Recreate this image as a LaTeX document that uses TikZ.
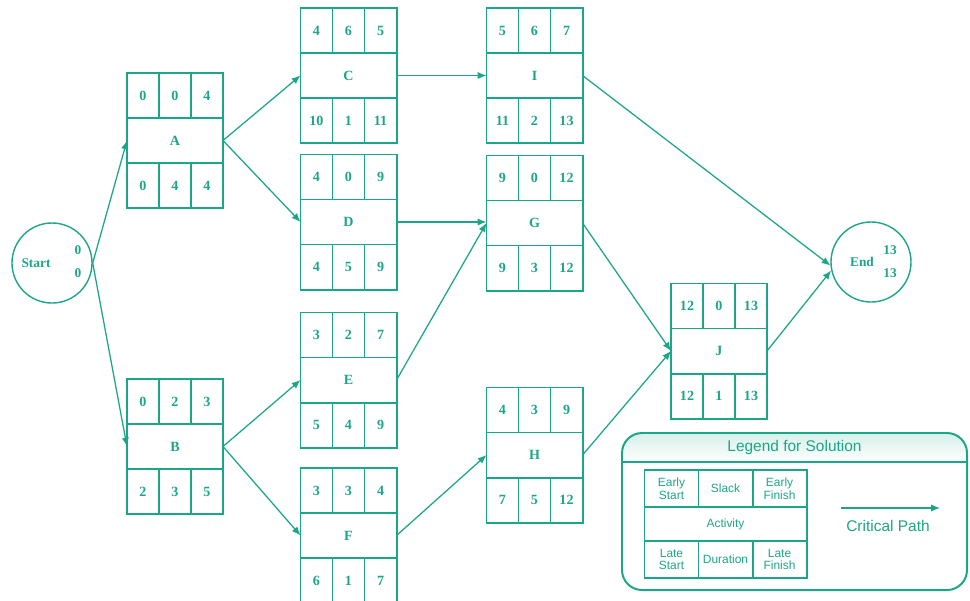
\documentclass[tikz,border=0pt]{standalone}
\usepackage{fontspec}
\setmainfont{Liberation Serif}
\setsansfont{Liberation Sans}
\usetikzlibrary{arrows.meta,positioning,calc}
\definecolor{ink}{RGB}{28,166,136}
\definecolor{soft}{RGB}{214,240,233}
\tikzset{
  boxline/.style={draw=ink,line width=1.4pt},
  actmid/.style={boxline,minimum width=2.4cm,minimum height=1.125cm,inner sep=0pt,
    outer sep=0pt,text=ink,font=\fontsize{10}{12}\selectfont\bfseries},
  actcell/.style={actmid,minimum width=0.8cm},
  evt/.style={draw=ink,line width=1pt,circle,minimum size=2cm,inner sep=0pt},
  evtxt/.style={text=ink,inner sep=0pt,font=\fontsize{9.5}{10}\selectfont\bfseries},
  legcell/.style={boxline,minimum width=1.35cm,minimum height=0.925cm,inner sep=0pt,
    outer sep=0pt,text=ink,align=center,font=\sffamily\fontsize{8.5}{9}\selectfont},
  legtxt/.style={text=ink,inner sep=1pt,font=\sffamily\fontsize{11}{13}\selectfont},
  ar/.style={draw=ink,line width=0.9pt,-{Latex[length=2.2mm,width=1.8mm]}},
}
% name, position, activity, ES, slack, EF, LS, duration, LF
\newcommand{\actbox}[9]{%
  \node[actmid] (#1) at (#2) {#3};
  \node[actcell,anchor=south west] (#1es) at (#1.north west) {#4};
  \node[actcell,anchor=south] (#1sl) at (#1.north) {#5};
  \node[actcell,anchor=south east] (#1ef) at (#1.north east) {#6};
  \node[actcell,anchor=north west] (#1ls) at (#1.south west) {#7};
  \node[actcell,anchor=north] (#1du) at (#1.south) {#8};
  \node[actcell,anchor=north east] (#1lf) at (#1.south east) {#9};
}

\begin{document}
\begin{tikzpicture}[x=0.025cm,y=-0.025cm]
  \useasboundingbox (0,0) rectangle (970,600);
  % events
  \node[evt] (start) at (52,263) {};
  \node[evtxt] (starttxt) at (36,263) {Start};
  \node[evtxt] (startes) at (78,250) {0};
  \node[evtxt] (startls) at (78,273) {0};
  \node[evt] (end) at (871,262) {};
  \node[evtxt] (endtxt) at (862,262) {End};
  \node[evtxt] (endes) at (890,250) {13};
  \node[evtxt] (endls) at (890,273) {13};
  % activities
  \actbox{A}{175,140.5}{A}{0}{0}{4}{0}{4}{4}
  \actbox{B}{175,446.5}{B}{0}{2}{3}{2}{3}{5}
  \actbox{C}{348.5,75.5}{C}{4}{6}{5}{10}{1}{11}
  \actbox{D}{348.5,222}{D}{4}{0}{9}{4}{5}{9}
  \actbox{E}{348.5,380}{E}{3}{2}{7}{5}{4}{9}
  \actbox{F}{348.5,535.5}{F}{3}{3}{4}{6}{1}{7}
  \actbox{I}{534.5,75.5}{I}{5}{6}{7}{11}{2}{13}
  \actbox{G}{534.5,223}{G}{9}{0}{12}{9}{3}{12}
  \actbox{H}{534.5,455}{H}{4}{3}{9}{7}{5}{12}
  \actbox{J}{719,351}{J}{12}{0}{13}{12}{1}{13}
  % connectors
  \draw[ar] (start.east) -- (A.west);
  \draw[ar] (start.east) -- (B.west);
  \draw[ar] (A.east) -- (C.west);
  \draw[ar] (A.east) -- (D.west);
  \draw[ar] (B.east) -- (E.west);
  \draw[ar] (B.east) -- (F.west);
  \draw[ar] (C.east) -- (I.west);
  \draw[ar] (D.east) -- (D.east -| G.west);
  \draw[ar] (E.east) -- (G.west);
  \draw[ar] (F.east) -- (H.west);
  \draw[ar] (I.east) -- (end.185);
  \draw[ar] (G.east) -- (J.west);
  \draw[ar] (H.east) -- (J.west);
  \draw[ar] (J.east) -- (end.192);
  % legend
  \begin{scope}
    \clip[rounded corners=0.5cm] (622,433) rectangle (967,590);
    \fill[top color=soft,bottom color=white] (622,433) rectangle (967,462);
  \end{scope}
  \draw[boxline,rounded corners=0.5cm] (622,433) rectangle (967,590);
  \draw[boxline] (622,462) -- (967,462);
  \node[legtxt] (legtitle) at (794.5,447) {Legend for Solution};
  \node[legcell,minimum width=4.05cm,minimum height=0.85cm] (legact) at (725.5,524) {Activity};
  \node[legcell,anchor=south west] (leges) at (legact.north west) {Early\\Start};
  \node[legcell,anchor=south] (legsl) at (legact.north) {Slack};
  \node[legcell,anchor=south east] (legef) at (legact.north east) {Early\\Finish};
  \node[legcell,anchor=north west] (legls) at (legact.south west) {Late\\Start};
  \node[legcell,anchor=north] (legdu) at (legact.south) {Duration};
  \node[legcell,anchor=north east] (leglf) at (legact.south east) {Late\\Finish};
  \coordinate (cpa) at (841,508);
  \coordinate (cpb) at (940,508);
  \draw[ar] (cpa) -- (cpb);
  \node[legtxt] (cptxt) at (888,526) {Critical Path};
\end{tikzpicture}
\end{document}
